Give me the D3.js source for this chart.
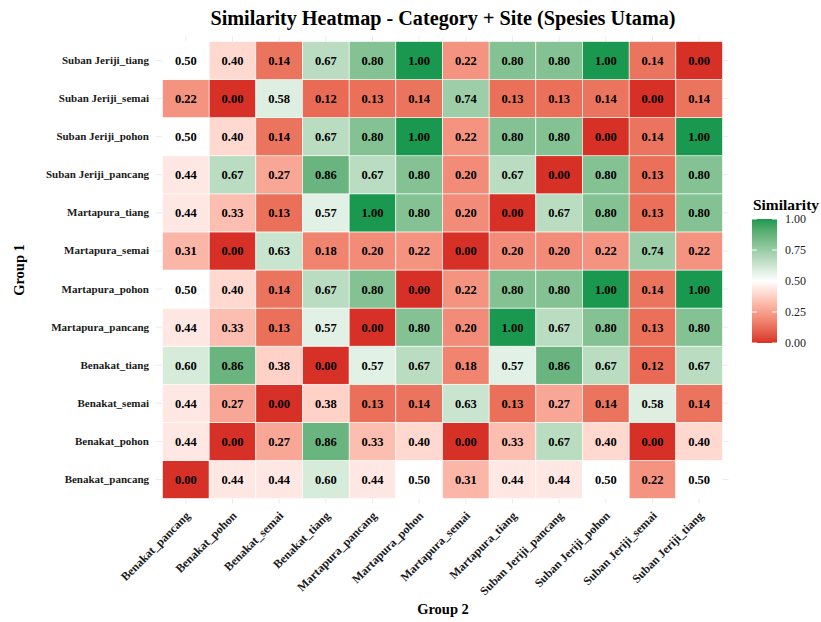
<!DOCTYPE html>
<html>
<head>
<meta charset="utf-8">
<script src="https://cdn.jsdelivr.net/npm/d3@7"></script>
<style>
  html, body { margin: 0; padding: 0; background: #fff; }
  svg text { font-family: "Liberation Serif", "Times New Roman", serif; font-weight: bold; }
</style>
</head>
<body>
<svg id="chart" width="821" height="622"></svg>
<script>
// Similarity heatmap, Group 1 (rows) x Group 2 (cols).

const group2 = [
  "Benakat_pancang", "Benakat_pohon", "Benakat_semai", "Benakat_tiang",
  "Martapura_pancang", "Martapura_pohon", "Martapura_semai", "Martapura_tiang",
  "Suban Jeriji_pancang", "Suban Jeriji_pohon", "Suban Jeriji_semai", "Suban Jeriji_tiang"
];
// rows listed bottom -> top like the y scale
const group1 = group2.slice();

// one array per row (Group 1), values along Group 2
const benakatPancang    = [0.00, 0.44, 0.44, 0.60, 0.44, 0.50, 0.31, 0.44, 0.44, 0.50, 0.22, 0.50];
const benakatPohon      = [0.44, 0.00, 0.27, 0.86, 0.33, 0.40, 0.00, 0.33, 0.67, 0.40, 0.00, 0.40];
const benakatSemai      = [0.44, 0.27, 0.00, 0.38, 0.13, 0.14, 0.63, 0.13, 0.27, 0.14, 0.58, 0.14];
const benakatTiang      = [0.60, 0.86, 0.38, 0.00, 0.57, 0.67, 0.18, 0.57, 0.86, 0.67, 0.12, 0.67];
const martapuraPancang  = [0.44, 0.33, 0.13, 0.57, 0.00, 0.80, 0.20, 1.00, 0.67, 0.80, 0.13, 0.80];
const martapuraPohon    = [0.50, 0.40, 0.14, 0.67, 0.80, 0.00, 0.22, 0.80, 0.80, 1.00, 0.14, 1.00];
const martapuraSemai    = [0.31, 0.00, 0.63, 0.18, 0.20, 0.22, 0.00, 0.20, 0.20, 0.22, 0.74, 0.22];
const martapuraTiang    = [0.44, 0.33, 0.13, 0.57, 1.00, 0.80, 0.20, 0.00, 0.67, 0.80, 0.13, 0.80];
const subanPancang      = [0.44, 0.67, 0.27, 0.86, 0.67, 0.80, 0.20, 0.67, 0.00, 0.80, 0.13, 0.80];
const subanPohon        = [0.50, 0.40, 0.14, 0.67, 0.80, 1.00, 0.22, 0.80, 0.80, 0.00, 0.14, 1.00];
const subanSemai        = [0.22, 0.00, 0.58, 0.12, 0.13, 0.14, 0.74, 0.13, 0.13, 0.14, 0.00, 0.14];
const subanTiang        = [0.50, 0.40, 0.14, 0.67, 0.80, 1.00, 0.22, 0.80, 0.80, 1.00, 0.14, 0.00];

const rowValues = [
  benakatPancang, benakatPohon, benakatSemai, benakatTiang,
  martapuraPancang, martapuraPohon, martapuraSemai, martapuraTiang,
  subanPancang, subanPohon, subanSemai, subanTiang
];

const legendTicks = [0, 0.25, 0.5, 0.75, 1];

const cells = [];
group1.forEach((g1, i) => {
  group2.forEach((g2, j) => cells.push({ g1, g2, v: rowValues[i][j] }));
});

const svg = d3.select("#chart");

// panel area (tiles)
const pLeft = 162.5, pRight = 722.5, pTop = 41.5, pBottom = 498.5;

const x = d3.scaleBand().domain(group2).range([pLeft, pRight]).padding(0);
const y = d3.scaleBand().domain(group1).range([pBottom, pTop]).padding(0);

// diverging red - white - green, interpolated in Lab like scale_fill_gradient2
const color = d3.scaleLinear()
  .domain([0, 0.5, 1])
  .range(["#d73027", "#ffffff", "#1a9850"])
  .interpolate(d3.interpolateLab);

// faint panel grid (mostly hidden under tiles)
const grid = svg.append("g").attr("stroke", "#ebebeb").attr("stroke-width", 1);
group2.forEach((g) => {
  const cx = x(g) + x.bandwidth() / 2;
  grid.append("line").attr("x1", cx).attr("x2", cx).attr("y1", pTop - 5).attr("y2", pBottom + 5);
});
group1.forEach((g) => {
  const cy = y(g) + y.bandwidth() / 2;
  grid.append("line").attr("x1", pLeft - 7).attr("x2", pRight + 6).attr("y1", cy).attr("y2", cy);
});

// tiles
svg.append("g").selectAll("rect")
  .data(cells)
  .join("rect")
  .attr("x", (d) => x(d.g2))
  .attr("y", (d) => y(d.g1))
  .attr("width", x.bandwidth())
  .attr("height", y.bandwidth())
  .attr("fill", (d) => color(d.v))
  .attr("stroke", "#ffffff")
  .attr("stroke-width", 0.6);

// cell labels
svg.append("g").selectAll("text")
  .data(cells)
  .join("text")
  .attr("x", (d) => x(d.g2) + x.bandwidth() / 2)
  .attr("y", (d) => y(d.g1) + y.bandwidth() / 2)
  .attr("dy", "0.36em")
  .attr("text-anchor", "middle")
  .attr("font-size", 12.5)
  .attr("fill", "#000")
  .text((d) => d.v.toFixed(2));

// y axis labels
const yAxis = svg.append("g")
  .attr("transform", `translate(${pLeft - 9.5},0)`)
  .call(d3.axisLeft(y).tickSize(0).tickPadding(4));
yAxis.select(".domain").remove();
yAxis.selectAll("text").attr("font-size", 11).attr("fill", "#1a1a1a")
  .style("font-family", "'Liberation Serif', serif").style("font-weight", "bold");

// x axis labels, rotated 45
const xAxis = svg.append("g")
  .attr("transform", `translate(0,${pBottom})`)
  .call(d3.axisBottom(x).tickSize(0).tickPadding(0));
xAxis.select(".domain").remove();
xAxis.selectAll("text")
  .attr("font-size", 12).attr("fill", "#1a1a1a")
  .style("font-family", "'Liberation Serif', serif").style("font-weight", "bold")
  .attr("text-anchor", "end")
  .attr("dx", 0).attr("dy", 0)
  .attr("transform", "translate(5,18) rotate(-45)");

// titles
svg.append("text")
  .attr("x", 443).attr("y", 25)
  .attr("text-anchor", "middle")
  .attr("font-size", 20.2)
  .text("Similarity Heatmap - Category + Site (Spesies Utama)");

svg.append("text")
  .attr("x", 443).attr("y", 614)
  .attr("text-anchor", "middle")
  .attr("font-size", 14.5)
  .text("Group 2");

svg.append("text")
  .attr("transform", `translate(24,${(pTop + pBottom) / 2}) rotate(-90)`)
  .attr("text-anchor", "middle")
  .attr("font-size", 14.5)
  .text("Group 1");

// colorbar legend
const lgX = 752, lgW = 25, lgTop = 219, lgBottom = 343;
const ly = d3.scaleLinear().domain([0, 1]).range([lgBottom, lgTop]);

const defs = svg.append("defs");
const grad = defs.append("linearGradient")
  .attr("id", "simgrad").attr("x1", "0").attr("y1", "1").attr("x2", "0").attr("y2", "0");
d3.range(0, 1.0001, 0.05).forEach((t) => {
  grad.append("stop").attr("offset", t).attr("stop-color", color(t));
});

svg.append("text")
  .attr("x", lgX + 1).attr("y", 210)
  .attr("font-size", 14.5)
  .attr("textLength", 66)
  .attr("lengthAdjust", "spacingAndGlyphs")
  .text("Similarity");

svg.append("rect")
  .attr("x", lgX).attr("y", lgTop)
  .attr("width", lgW).attr("height", lgBottom - lgTop)
  .attr("fill", "url(#simgrad)");

const lg = svg.append("g");
legendTicks.forEach((t) => {
  lg.append("line").attr("x1", lgX).attr("x2", lgX + 5)
    .attr("y1", ly(t)).attr("y2", ly(t)).attr("stroke", "#fff").attr("stroke-width", 1);
  lg.append("line").attr("x1", lgX + lgW - 5).attr("x2", lgX + lgW)
    .attr("y1", ly(t)).attr("y2", ly(t)).attr("stroke", "#fff").attr("stroke-width", 1);
});

svg.append("g")
  .attr("transform", `translate(${lgX + lgW},0)`)
  .call(d3.axisRight(ly).tickValues(legendTicks).tickFormat(d3.format(".2f")).tickSize(0).tickPadding(8))
  .call((g) => g.select(".domain").remove())
  .selectAll("text")
  .attr("font-size", 12).attr("fill", "#222")
  .style("font-family", "'Liberation Serif', serif").style("font-weight", "normal");
</script>
</body>
</html>
